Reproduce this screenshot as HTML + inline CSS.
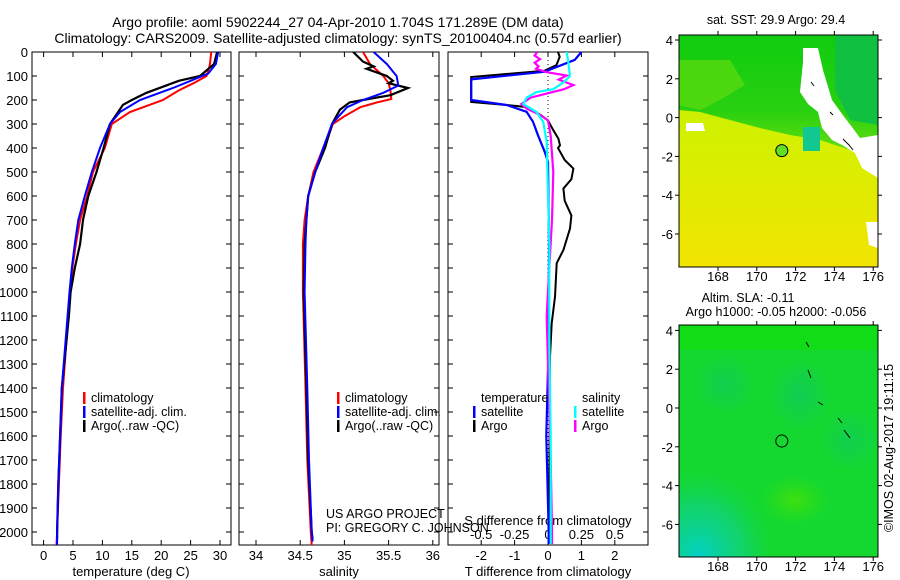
<!DOCTYPE html>
<html><head><meta charset="utf-8"><style>
html,body{margin:0;padding:0;background:#fff}
svg{display:block;font-family:"Liberation Sans",sans-serif}
</style></head><body>
<svg id="chart" width="900" height="580" viewBox="0 0 900 580" xmlns="http://www.w3.org/2000/svg">
<defs>
<linearGradient id="sstg" x1="0" y1="0" x2="0" y2="1">
<stop offset="0" stop-color="#b8ee00"/><stop offset="0.45" stop-color="#d4f000"/><stop offset="1" stop-color="#f2e400"/></linearGradient>
<linearGradient id="grg" x1="0" y1="0" x2="0" y2="1">
<stop offset="0" stop-color="#10cc10"/><stop offset="0.6" stop-color="#28d010"/><stop offset="1" stop-color="#70e010"/></linearGradient>
<radialGradient id="cyg" cx="0.1" cy="1" r="0.38">
<stop offset="0" stop-color="#00d0c8"/><stop offset="0.6" stop-color="#10d0a0" stop-opacity="0.5"/><stop offset="1" stop-color="#10d060" stop-opacity="0"/></radialGradient>
<radialGradient id="ylg" cx="0.5" cy="0.5" r="0.5">
<stop offset="0" stop-color="#40e010"/><stop offset="1" stop-color="#30dc10" stop-opacity="0"/></radialGradient>
<radialGradient id="tlg" cx="0.5" cy="0.5" r="0.5">
<stop offset="0" stop-color="#10c860"/><stop offset="1" stop-color="#10c870" stop-opacity="0"/></radialGradient>
</defs>
<g font-size="14" text-anchor="middle">
<text x="338" y="27">Argo profile: aoml 5902244_27 04-Apr-2010 1.704S 171.289E (DM data)</text>
<text x="338" y="43">Climatology: CARS2009. Satellite-adjusted climatology: synTS_20100404.nc (0.57d earlier)</text>
</g>
<g id="panels"></g>
<g id="maps"></g>
</svg>
<script>
// ---- data (depth m, value) ----
const tClimDepth=[0,50,80,100,130,160,200,250,300,400,500,600,700,800,900,1000,1100,1400,1600,1800,2000,2054];
const tClimVal=[28.5,28.3,28.0,27.7,25.5,23,20.3,14.7,11.6,10.4,8.4,7.4,6.2,5.5,4.9,4.5,4.2,3.3,2.9,2.6,2.3,2.2];
const tSatDepth=[0,50,90,120,150,200,250,300,400,500,600,700,800,900,1000,1400,1600,1800,2000,2054];
const tSatVal=[29.7,29.3,28.0,25,22,16.4,13,11.3,9.6,8.2,7.0,5.9,5.3,4.8,4.4,3.1,2.8,2.5,2.3,2.3];
const tArgoDepth=[0,50,100,120,170,200,220,300,400,500,550,600,700,800,900,1000,1100,1400,1600,1800,2000,2030];
const tArgoVal=[29.5,29.0,26.6,23,17.5,15,13.5,11.3,10.2,9.0,8.3,7.6,6.7,6.2,5.3,4.6,4.3,3.1,2.8,2.5,2.3,2.3];
const sClimDepth=[0,50,100,130,160,196,210,230,270,300,350,400,500,600,700,800,1000,1400,1700,2000,2054];
const sClimVal=[35.21,35.29,35.44,35.50,35.52,35.53,35.37,35.18,34.99,34.87,34.82,34.76,34.65,34.59,34.55,34.53,34.53,34.56,34.58,34.62,34.63];
const sSatDepth=[0,50,100,140,170,200,230,270,300,400,500,600,700,800,1000,1400,1700,2000,2040];
const sSatVal=[35.33,35.48,35.59,35.61,35.44,35.21,35.03,34.93,34.86,34.76,34.67,34.59,34.57,34.56,34.55,34.58,34.6,34.63,34.64];
const sArgoDepth=[0,40,60,70,100,120,130,150,180,200,210,240,300,400,500,600,800,1000,1400,1700,2000,2030];
const sArgoVal=[35.10,35.21,35.33,35.25,35.48,35.55,35.50,35.72,35.52,35.21,35.06,34.95,34.86,34.78,34.67,34.59,34.55,34.54,34.57,34.59,34.63,34.64];
const dTSatDepth=[0,33,82,114,200,221,249,291,347,416,458,800,1200,1600,2000,2050];
const dTSatVal=[1.0,0.8,-0.1,-2.3,-2.3,-1.24,-0.64,-0.45,-0.3,-0.1,0.0,0.03,0.02,-0.05,0.02,0.02];
const dTArgoDepth=[0,20,55,78,104,208,221,230,264,285,326,361,389,400,450,486,530,569,620,681,736,825,880,1020,1130,1270,1500,2000,2050];
const dTArgoVal=[0.3,0.35,0.25,-0.1,-2.3,-2.3,-1.24,-0.6,-0.2,0.0,0.16,0.31,0.36,0.3,0.5,0.76,0.7,0.46,0.5,0.7,0.66,0.46,0.26,0.21,0.11,0.06,0.05,0.03,0.03];
const dSSatDepth=[0,33,100,125,155,167,190,217,250,292,375,800,1200,1600,2000,2050];
const dSSatVal=[0.14,0.15,0.165,0.12,0.04,-0.085,-0.16,-0.185,-0.085,-0.035,-0.01,0.01,0.01,0.02,0.02,0.02];
const dSArgoDepth=[0,15,30,45,60,70,84,98,115,138,155,190,217,236,262,285,350,500,700,900,1100,1300,1500,1700,2000,2050];
const dSArgoVal=[-0.08,-0.1,-0.06,-0.1,-0.07,-0.09,-0.01,0.14,0.08,0.19,0.12,-0.13,-0.2,-0.16,-0.06,0.0,0.02,0.04,0.03,0.01,-0.01,0.0,0.01,0.02,0.03,0.03];
const depthTicks=[0,100,200,300,400,500,600,700,800,900,1000,1100,1200,1300,1400,1500,1600,1700,1800,1900,2000];
const tTicks=[0,5,10,15,20,25,30];
const sTicks=[34,34.5,35,35.5,36];
const dTTicks=[-2,-1,0,1,2];
const dSTicks=[-0.5,-0.25,0,0.25,0.5];
const lonTicks=[168,170,172,174,176];
const latTicks=[-6,-4,-2,0,2,4];
const argoLon=171.289, argoLat=-1.704;

const NS='http://www.w3.org/2000/svg';
function mk(tag,attrs,parent,txt){const e=document.createElementNS(NS,tag);for(const k in attrs)e.setAttribute(k,attrs[k]);if(txt!==undefined)e.textContent=txt;parent.appendChild(e);return e;}
const TOP=52,BOT=545;
const yD=d=>TOP+d*0.24;
const xT=t=>43.6+t*5.88;
const xS=s=>256+(s-34)*88.4;
const xDT=v=>548+v*33.4;
const xDS=v=>548+v*133.6;
const panels=document.getElementById('panels');

function frame(x0,x1,name){
  const r=mk('rect',{x:x0,y:TOP,width:x1-x0,height:BOT-TOP,fill:'none',stroke:'#000','stroke-width':1},panels);
  
  
  depthTicks.forEach(d=>{
    mk('line',{x1:x0,x2:x0+5,y1:yD(d),y2:yD(d),stroke:'#000'},panels);
    mk('line',{x1:x1-5,x2:x1,y1:yD(d),y2:yD(d),stroke:'#000'},panels);
  });
}
function xticks(xs,fn,x0,x1,labels,ly,name){
  const g=mk('g',{},panels);
  
  
  xs.forEach(v=>{const x=fn(v);
    mk('line',{x1:x,x2:x,y1:TOP,y2:TOP+5,stroke:'#000'},g);
    mk('line',{x1:x,x2:x,y1:BOT-5,y2:BOT,stroke:'#000'},g);
    if(labels){const t=mk('text',{x:x,y:ly,'font-size':13,'text-anchor':'middle'},g,String(v));
      
      }
  });
}
function clip(id,x0,x1){const cp=mk('clipPath',{id:id},panels);mk('rect',{x:x0+1,y:TOP,width:x1-x0-2,height:BOT-TOP},cp);}
function series(dArr,vArr,fx,color,w,cl,name){
  const pts=dArr.map((d,i)=>fx(vArr[i]).toFixed(1)+','+yD(d).toFixed(1)).join(' ');
  const p=mk('polyline',{points:pts,fill:'none',stroke:color,'stroke-width':w,'clip-path':'url(#'+cl+')'},panels);
  
  
}
function legendRow(x,y,color,label,name){
  const g=mk('g',{},panels);
  
  
  if(color)mk('rect',{x:x,y:y-10,width:2.5,height:12,fill:color},g);
  mk('text',{x:x+8,y:y,'font-size':12.5},g,label);
}

// panel 1 temperature
frame(32,231,'temperature-panel');
depthTicks.forEach(d=>{const t=mk('text',{x:28,y:yD(d)+5,'font-size':13,'text-anchor':'end'},panels,String(d));
  
  });
xticks(tTicks,xT,32,231,true,560,'temperature-x-axis');
clip('c1',32,231);
series(tClimDepth,tClimVal,xT,'#f00',2,'c1','temperature-climatology-line');
series(tArgoDepth,tArgoVal,xT,'#000',2.2,'c1','temperature-argo-line');
series(tSatDepth,tSatVal,xT,'#00f',2,'c1','temperature-satellite-line');
let t1=mk('text',{x:131,y:576,'font-size':13,'text-anchor':'middle'},panels,'temperature (deg C)');


legendRow(83,402,'#f00','climatology','legend-climatology');
legendRow(83,416,'#00f','satellite-adj. clim.','legend-satellite');
legendRow(83,430,'#000','Argo(..raw -QC)','legend-argo');

// panel 2 salinity
frame(239,439,'salinity-panel');
xticks(sTicks,xS,239,439,true,560,'salinity-x-axis');
clip('c2',239,439);
series(sClimDepth,sClimVal,xS,'#f00',2,'c2','salinity-climatology-line');
series(sArgoDepth,sArgoVal,xS,'#000',2.2,'c2','salinity-argo-line');
series(sSatDepth,sSatVal,xS,'#00f',2,'c2','salinity-satellite-line');
let t2=mk('text',{x:339,y:576,'font-size':13,'text-anchor':'middle'},panels,'salinity');


legendRow(337,402,'#f00','climatology','legend-climatology-2');
legendRow(337,416,'#00f','satellite-adj. clim.','legend-satellite-2');
legendRow(337,430,'#000','Argo(..raw -QC)','legend-argo-2');

// panel 3 differences
frame(448,648,'difference-panel');
xticks(dTTicks,xDT,448,648,true,560,'t-difference-x-axis');
const sg=mk('g',{},panels);


dSTicks.forEach(v=>{mk('text',{x:xDS(v),y:539,'font-size':13,'text-anchor':'middle'},sg,String(v));});
let sdt=mk('text',{x:548,y:525,'font-size':13,'text-anchor':'middle'},panels,'S difference from climatology');


let tdt=mk('text',{x:548,y:576,'font-size':13,'text-anchor':'middle'},panels,'T difference from climatology');


mk('line',{x1:548,x2:548,y1:TOP,y2:BOT,stroke:'#000','stroke-dasharray':'1,3'},panels);
clip('c3',448,648);
series(dTArgoDepth,dTArgoVal,xDT,'#000',2,'c3','t-diff-argo-line');
series(dTSatDepth,dTSatVal,xDT,'#00f',2.2,'c3','t-diff-satellite-line');
series(dSArgoDepth,dSArgoVal,xDS,'#f0f',2.2,'c3','s-diff-argo-line');
series(dSSatDepth,dSSatVal,xDS,'#0ff',2.2,'c3','s-diff-satellite-line');
legendRow(473,402,null,'temperature','legend-temperature-header');
legendRow(473,416,'#00f','satellite','legend-t-satellite');
legendRow(473,430,'#000','Argo','legend-t-argo');
legendRow(574,402,null,'salinity','legend-salinity-header');
legendRow(574,416,'#0ff','satellite','legend-s-satellite');
legendRow(574,430,'#f0f','Argo','legend-s-argo');
let pr=mk('text',{x:326,y:518,'font-size':12.5},panels,'US ARGO PROJECT');


let pi=mk('text',{x:326,y:532,'font-size':12.5},panels,'PI: GREGORY C. JOHNSON');



// ---- maps ----
const maps=document.getElementById('maps');
const MX0=679,MX1=878;
const xLon=l=>718+(l-168)*19.4;
function mapAxes(y0,y1,lat0y,name,lbly){
  const g=mk('g',{},maps);
  
  
  const yLat=l=>lat0y-l*19.4;
  mk('rect',{x:MX0,y:y0,width:MX1-MX0,height:y1-y0,fill:'none',stroke:'#000'},g);
  lonTicks.forEach(l=>{const x=xLon(l);
    mk('line',{x1:x,x2:x,y1:y0-4,y2:y0,stroke:'#000'},g);
    mk('line',{x1:x,x2:x,y1:y1,y2:y1+4,stroke:'#000'},g);
    mk('text',{x:x,y:lbly,'font-size':13,'text-anchor':'middle'},g,String(l));});
  latTicks.forEach(l=>{const y=yLat(l);
    mk('line',{x1:MX0-4,x2:MX0,y1:y,y2:y,stroke:'#000'},g);
    mk('line',{x1:MX1,x2:MX1+4,y1:y,y2:y,stroke:'#000'},g);
    mk('text',{x:673,y:y+5,'font-size':13,'text-anchor':'end'},g,String(l));});
  return yLat;
}
// map 1 SST
const m1=mk('g',{'clip-path':'url(#mc1)'},maps);


const mc1=mk('clipPath',{id:'mc1'},maps);mk('rect',{x:MX0,y:35,width:MX1-MX0,height:232},mc1);
mk('rect',{x:MX0,y:35,width:199,height:232,fill:'url(#sstg)'},m1);
mk('polygon',{points:'679,35 878,35 878,160 850,150 820,140 790,135 760,128 730,120 700,112 679,110',fill:'url(#grg)'},m1);
mk('polygon',{points:'679,60 730,60 745,85 720,100 700,110 679,105',fill:'#60dc10',opacity:0.7},m1);
mk('polygon',{points:'835,35 878,35 878,125 850,120 835,90',fill:'#10c040'},m1);
mk('rect',{x:803,y:127,width:17,height:24,fill:'#10c890'},m1);
mk('polygon',{points:'803,48 818,48 823,70 832,100 845,118 852,127 860,138 878,135 878,178 862,168 855,153 842,145 832,140 822,128 818,112 808,104 800,92 803,62',fill:'#fff'},m1);
mk('polygon',{points:'686,123 703,123 705,131 686,131',fill:'#fff'},m1);
mk('polygon',{points:'866,222 878,222 878,248 869,245',fill:'#fff'},m1);
mk('path',{d:'M843,139 l6,6 l4,5 M811,82 l3,4 M830,112 l3,3',stroke:'#000',fill:'none'},m1);
const yLat1=mapAxes(35,267,117.6,'sst-map-axes',281);
let ac1=mk('circle',{cx:xLon(argoLon),cy:yLat1(argoLat),r:6,fill:'#60e020',stroke:'#000'},maps);


let mt1=mk('text',{x:776,y:24,'font-size':12.5,'text-anchor':'middle'},maps,'sat. SST: 29.9 Argo: 29.4');



// map 2 SLA
const m2=mk('g',{'clip-path':'url(#mc2)'},maps);


const mc2=mk('clipPath',{id:'mc2'},maps);mk('rect',{x:MX0,y:325,width:MX1-MX0,height:232},mc2);
mk('rect',{x:MX0,y:325,width:199,height:232,fill:'#14d830'},m2);
mk('rect',{x:MX0,y:325,width:199,height:25,fill:'#10dc18'},m2);
mk('ellipse',{cx:800,cy:395,rx:30,ry:35,fill:'url(#tlg)',opacity:0.7},m2);
mk('ellipse',{cx:725,cy:385,rx:30,ry:30,fill:'url(#tlg)',opacity:0.6},m2);
mk('ellipse',{cx:850,cy:440,rx:30,ry:30,fill:'url(#tlg)',opacity:0.6},m2);
mk('ellipse',{cx:795,cy:500,rx:35,ry:25,fill:'url(#ylg)'},m2);
mk('rect',{x:MX0,y:325,width:199,height:232,fill:'url(#cyg)'},m2);
mk('path',{d:'M806,342 l3,5 M808,370 l3,8 M818,402 l5,3 M838,418 l4,5 M844,430 l6,8',stroke:'#000',fill:'none'},m2);
const yLat2=mapAxes(325,557,408,'sla-map-axes',571);
let ac2=mk('circle',{cx:xLon(argoLon),cy:yLat2(argoLat),r:6,fill:'none',stroke:'#000'},maps);


let mt2=mk('text',{x:748,y:302,'font-size':12.5,'text-anchor':'middle'},maps,'Altim. SLA: -0.11');


let mt3=mk('text',{x:776,y:316,'font-size':12.5,'text-anchor':'middle'},maps,'Argo h1000: -0.05 h2000: -0.056');


let cr=mk('text',{x:0,y:0,'font-size':12.5,'text-anchor':'middle',transform:'translate(893,448) rotate(-90)'},maps,'©IMOS 02-Aug-2017 19:11:15');


</script>
</body></html>
